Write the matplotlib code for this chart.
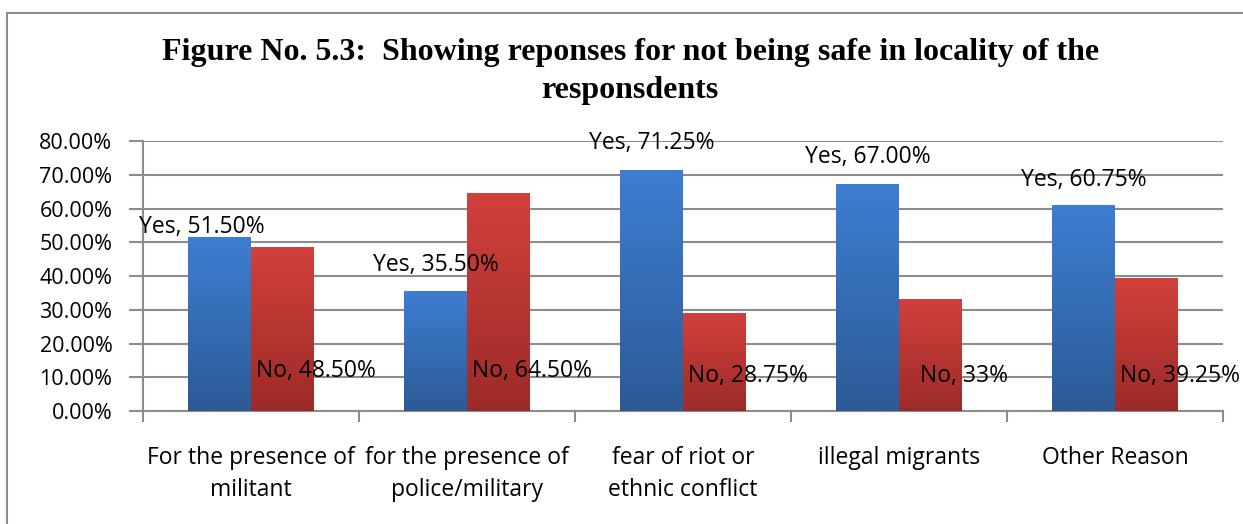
import matplotlib.pyplot as plt
import numpy as np
from matplotlib.lines import Line2D

# data
categories = ['For the presence of\nmilitant', 'for the presence of\npolice/military',
              'fear of riot or\nethnic conflict', 'illegal migrants', 'Other Reason']
yes_vals = [51.50, 35.50, 71.25, 67.00, 60.75]
no_vals = [48.50, 64.50, 28.75, 33.00, 39.25]
yes_labels = ['Yes, 51.50%', 'Yes, 35.50%', 'Yes, 71.25%', 'Yes, 67.00%', 'Yes, 60.75%']
no_labels = ['No, 48.50%', 'No, 64.50%', 'No, 28.75%', 'No, 33%', 'No, 39.25%']
# label offsets above the Yes bars (points)
yes_offsets = [7, 19, 20, 20, 19]

plt.rcParams['font.family'] = ['Open Sans', 'DejaVu Sans']
fs = 16.5

fig = plt.figure(figsize=(12.43, 5.24), dpi=100)
ax = fig.add_axes([0.115, 0.2156, 0.869, 0.5153])

x = np.arange(len(categories))
w = 0.29
grid_c = '#8c8c8c'


def gradient_bars(bars, top, bottom):
    grad = np.linspace(0, 1, 100).reshape(-1, 1)
    cmap = plt.matplotlib.colors.LinearSegmentedColormap.from_list('g', [bottom, top])
    for b in bars:
        x0, y0 = b.get_x(), b.get_y()
        ax.imshow(grad, cmap=cmap, aspect='auto', origin='lower',
                  extent=[x0, x0 + b.get_width(), y0, y0 + b.get_height()], zorder=3)
        b.set_visible(False)


b1 = ax.bar(x - w / 2, yes_vals, w, color='#3a78c8', zorder=3)
b2 = ax.bar(x + w / 2, no_vals, w, color='#c23b37', zorder=3)
gradient_bars(b1, '#3d7ed2', '#2c5a96')
gradient_bars(b2, '#d2403c', '#9c2b28')

ax.set_xlim(-0.5, len(categories) - 0.5)
ax.set_ylim(0, 80)
ax.set_yticks(np.arange(0, 81, 10))
ax.set_yticklabels([f'{v:.2f}%' for v in np.arange(0, 81, 10)], fontsize=15.5)
ax.yaxis.grid(True, color=grid_c, linewidth=1.5, zorder=0)
ax.set_axisbelow(True)

ax.set_xticks(np.arange(-0.5, len(categories), 1))
ax.set_xticklabels([])
ax.set_xticks(x, minor=True)
ax.set_xticklabels(categories, minor=True, fontsize=fs, linespacing=1.45)
ax.tick_params(axis='x', which='minor', length=0, pad=25)
ax.tick_params(axis='x', which='major', length=8, width=1.5, color=grid_c)
ax.tick_params(axis='y', length=10, width=1.5, color=grid_c, pad=12)

for s in ['top', 'right']:
    ax.spines[s].set_visible(False)
for s in ['left', 'bottom']:
    ax.spines[s].set_color(grid_c)
    ax.spines[s].set_linewidth(1.5)

for i in range(len(categories)):
    ax.annotate(yes_labels[i], (x[i] - w / 2, yes_vals[i]), xytext=(-13 if i == 0 else 0, yes_offsets[i]),
                textcoords='offset points', ha='center', va='center', fontsize=fs, zorder=5)
    ax.annotate(no_labels[i], (x[i] + w / 2, 0), xytext=(24, 29 if i in (0, 1) else 25),
                textcoords='offset points', ha='center', va='center', fontsize=fs, zorder=5)

fig.suptitle('Figure No. 5.3:  Showing reponses for not being safe in locality of the\nresponsdents',
             x=0.507, y=0.928, fontsize=23, fontweight='bold', family='Liberation Serif', linespacing=1.4)

# outer border
fig.add_artist(Line2D([7 / 1243, 7 / 1243], [0, 1 - 13 / 524], color='#8c8c8c', lw=1.5, transform=fig.transFigure))
fig.add_artist(Line2D([7 / 1243, 1], [1 - 13 / 524, 1 - 13 / 524], color='#8c8c8c', lw=1.5, transform=fig.transFigure))

plt.savefig('out.png', dpi=100)
